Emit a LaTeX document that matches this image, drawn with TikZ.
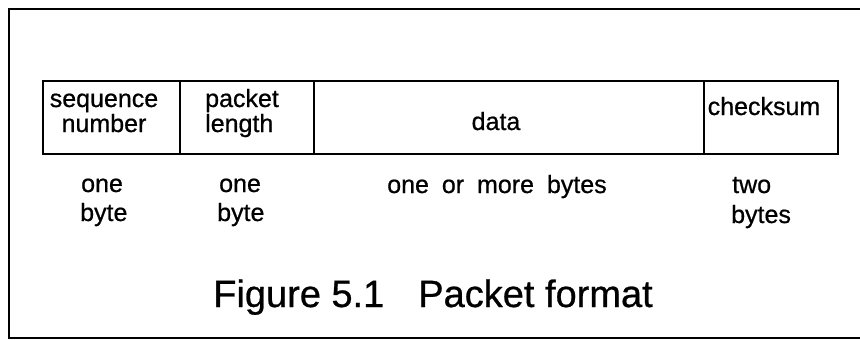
\documentclass[tikz,border=0pt]{standalone}
\usepackage{fontspec}
\setmainfont{Liberation Sans}[RawFeature={embolden=0.7}]
\begin{document}
\begin{tikzpicture}[x=1pt,y=-1pt,
  frame/.style={line width=1.8pt},
  field/.style={draw,line width=2pt,minimum height=73pt,inner sep=0pt,anchor=north west},
  lbl/.style={inner sep=0pt,font=\fontsize{25}{25}\selectfont},
  captext/.style={inner sep=0pt,font=\fontsize{38}{38}\selectfont}]
\useasboundingbox (0,0) rectangle (860,340);
% outer frame (open at right, running off the edge)
\coordinate (ftr) at (862,9);
\coordinate (ftl) at (9,9);
\coordinate (fbl) at (9,338);
\coordinate (fbr) at (862,338);
\draw[frame] (ftr) -- (ftl) -- (fbl) -- (fbr);
% packet fields
\node[field,minimum width=137pt] (seq) at (42,80) {};
\node[field,minimum width=134pt] (len) at (179,80) {};
\node[field,minimum width=390pt] (dat) at (313,80) {};
\node[field,minimum width=134pt] (chk) at (703,80) {};
% field texts
\node[lbl,anchor=base] (seq1) at (104,107) {sequence};
\node[lbl,anchor=base] (seq2) at (104,132) {number};
\node[lbl,anchor=base west] (len1) at (205,107) {packet};
\node[lbl,anchor=base west] (len2) at (205,132) {length};
\node[lbl,anchor=base] (dat1) at (496,130) {data};
\node[lbl,anchor=base] (chk1) at (764,115) {checksum};
% sizes
\node[lbl,anchor=base west] (s1a) at (81,192) {one};
\node[lbl,anchor=base west] (s1b) at (80,221) {byte};
\node[lbl,anchor=base west] (s2a) at (219,192) {one};
\node[lbl,anchor=base west] (s2b) at (217,221) {byte};
\node[lbl,anchor=base] (s3) at (497,193) {one\hspace{6pt} or\hspace{6pt} more\hspace{6pt} bytes};
\node[lbl,anchor=base west] (s4a) at (732,193) {two};
\node[lbl,anchor=base west] (s4b) at (731,223) {bytes};
% caption
\node[captext,anchor=base] (caption) at (433,307) {Figure 5.1\hspace{34pt}Packet format};
\end{tikzpicture}
\end{document}
